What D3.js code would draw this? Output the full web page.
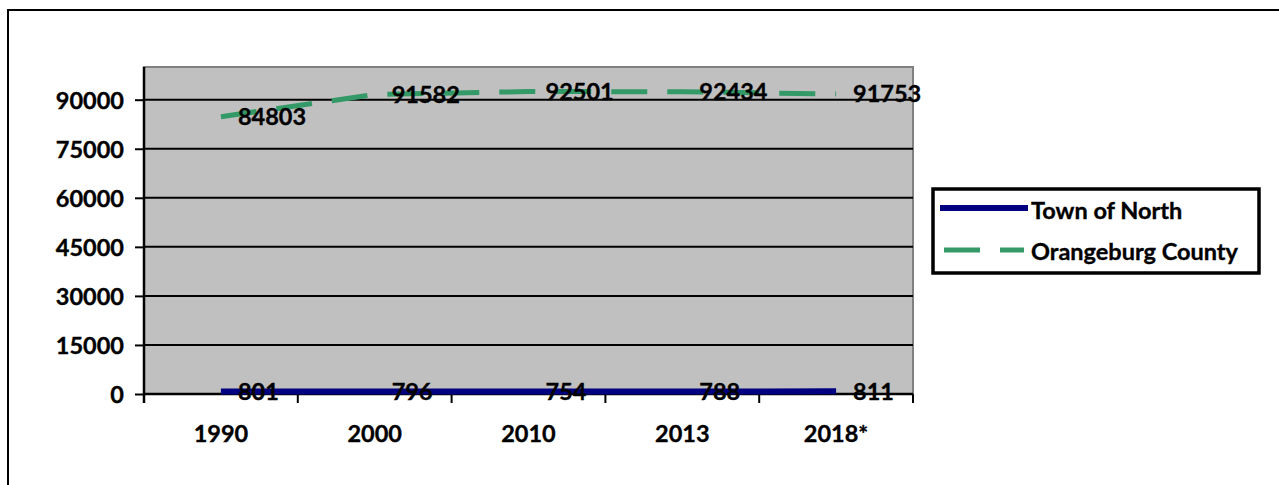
<!DOCTYPE html>
<html>
<head>
<meta charset="utf-8">
<script src="https://cdn.jsdelivr.net/npm/d3@7"></script>
<style>
  html, body { margin: 0; padding: 0; background: #fff; }
  svg { display: block; }
  text { font-family: Lato, "Open Sans", sans-serif; font-weight: 700; fill: #000; stroke: #000; stroke-width: 0.35px; }
</style>
</head>
<body>
<svg id="chart" width="1279" height="485"></svg>
<script>
const categories = ["1990", "2000", "2010", "2013", "2018*"];
const townOfNorth = [801, 796, 754, 788, 811];
const orangeburgCounty = [84803, 91582, 92501, 92434, 91753];
const yTicks = [0, 15000, 30000, 45000, 60000, 75000, 90000];
const seriesNames = ["Town of North", "Orangeburg County"];

const svg = d3.select("#chart");
const plot = { left: 144, top: 67, right: 913, bottom: 394 };
const fontSize = 23.5;

// outer frame
svg.append("rect").attr("x", 8).attr("y", 10).attr("width", 1290).attr("height", 500)
  .attr("fill", "#fff").attr("stroke", "#000").attr("stroke-width", 2);

const x = d3.scaleBand().domain(categories).range([plot.left, plot.right]);
const y = d3.scaleLinear().domain([0, 100000]).range([plot.bottom, plot.top]);
const cx = c => x(c) + x.bandwidth() / 2;

// plot area
svg.append("rect").attr("x", plot.left).attr("y", plot.top)
  .attr("width", plot.right - plot.left).attr("height", plot.bottom - plot.top)
  .attr("fill", "#C0C0C0").attr("stroke", "#808080").attr("stroke-width", 2);

// gridlines
svg.append("g").selectAll("line").data(yTicks.filter(d => d > 0)).join("line")
  .attr("x1", plot.left).attr("x2", plot.right)
  .attr("y1", d => y(d)).attr("y2", d => y(d))
  .attr("stroke", "#000").attr("stroke-width", 2);

// y axis
const yAxis = d3.axisLeft(y).tickValues(yTicks).tickSize(9).tickPadding(11).tickFormat(d3.format("d"));
const gy = svg.append("g").attr("transform", `translate(${plot.left},0)`).call(yAxis);
gy.select(".domain").attr("stroke", "#000").attr("stroke-width", 2.5)
  .attr("d", `M0,${plot.top}V${plot.bottom + 9}`);
gy.selectAll(".tick line").attr("stroke", "#000").attr("stroke-width", 2);
gy.selectAll(".tick text").style("font-size", fontSize + "px").attr("dy", "0.36em");

// x axis
const xAxis = d3.axisBottom(x).tickSize(0).tickPadding(31);
const gx = svg.append("g").attr("transform", `translate(0,${plot.bottom})`).call(xAxis);
gx.select(".domain").attr("stroke", "#000").attr("stroke-width", 2.5)
  .attr("d", `M${plot.left},0H${plot.right}`);
gx.selectAll(".tick text").style("font-size", fontSize + "px").attr("dy", "0.71em");
// category boundary ticks
const bounds = categories.map(c => x(c)).concat([plot.right]);
gx.append("g").selectAll("line").data(bounds).join("line")
  .attr("x1", d => d).attr("x2", d => d).attr("y1", 0).attr("y2", 9)
  .attr("stroke", "#000").attr("stroke-width", 2);

const line = d3.line().x((d, i) => cx(categories[i])).y(d => y(d));

// series lines
svg.append("path").datum(orangeburgCounty).attr("d", line)
  .attr("fill", "none").attr("stroke", "#339966").attr("stroke-width", 5)
  .attr("stroke-dasharray", "36,20");
svg.append("path").datum(townOfNorth).attr("d", line)
  .attr("fill", "none").attr("stroke", "#000080").attr("stroke-width", 6);

// data labels
function labels(data) {
  svg.append("g").selectAll("text").data(data).join("text")
    .attr("x", (d, i) => cx(categories[i]) + 17)
    .attr("y", d => y(d))
    .attr("dy", "0.36em")
    .style("font-size", fontSize + "px")
    .text(d => d);
}
labels(orangeburgCounty);
labels(townOfNorth);

// legend
const lg = svg.append("g");
lg.append("rect").attr("x", 933).attr("y", 189).attr("width", 326).attr("height", 84)
  .attr("fill", "#fff").attr("stroke", "#000").attr("stroke-width", 3.5);
lg.append("line").attr("x1", 940).attr("x2", 1028).attr("y1", 208).attr("y2", 208)
  .attr("stroke", "#000080").attr("stroke-width", 6);
lg.append("line").attr("x1", 944).attr("x2", 1024).attr("y1", 250).attr("y2", 250)
  .attr("stroke", "#339966").attr("stroke-width", 5).attr("stroke-dasharray", "36,20");
lg.selectAll("text.lbl").data(seriesNames).join("text")
  .attr("class", "lbl")
  .attr("x", 1031).attr("y", (d, i) => i === 0 ? 211 : 252)
  .attr("dy", "0.36em")
  .style("font-size", fontSize + "px")
  .text(d => d);
</script>
</body>
</html>
